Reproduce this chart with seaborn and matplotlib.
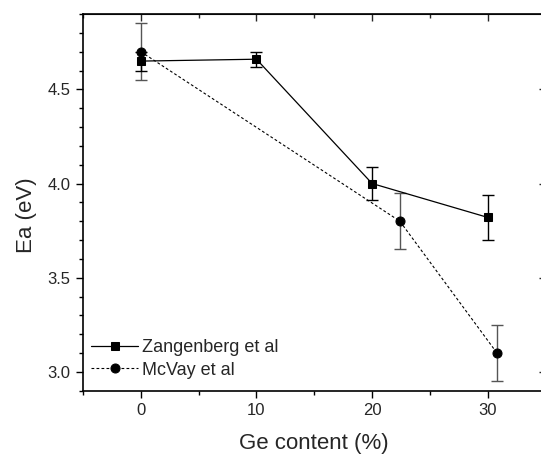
import numpy as np
import pandas as pd
import matplotlib
matplotlib.use("Agg")
import matplotlib.pyplot as plt
import seaborn as sns
from matplotlib.ticker import MultipleLocator


# Zangenberg et al data
zang_ge = [0, 10, 20, 30]
zang_ea = [4.65, 4.66, 4.00, 3.82]
zang_err = [0.05, 0.04, 0.09, 0.12]

# McVay et al data
mcvay_ge = [0, 22.4, 30.8]
mcvay_ea = [4.70, 3.80, 3.10]
mcvay_err = [0.15, 0.15, 0.15]

df_z = pd.DataFrame({'ge': zang_ge, 'ea': zang_ea})
df_m = pd.DataFrame({'ge': mcvay_ge, 'ea': mcvay_ea})

sns.set_style('ticks')
plt.rcParams['font.family'] = ['Liberation Sans', 'DejaVu Sans']

fig = plt.figure(figsize=(5.41, 4.58), dpi=100)
ax = fig.add_axes([0.1534, 0.147, 0.855, 0.8224])

# error bars first
ax.errorbar(mcvay_ge, mcvay_ea, yerr=mcvay_err, fmt='none', ecolor='#555555',
            elinewidth=1.0, capsize=4, capthick=1.0, zorder=2)
ax.errorbar(zang_ge, zang_ea, yerr=zang_err, fmt='none', ecolor='black',
            elinewidth=1.0, capsize=4, capthick=1.0, zorder=2)

sns.lineplot(x='ge', y='ea', data=df_z, ax=ax, color='black', linewidth=0.9,
             marker='s', markersize=6, markeredgecolor='black',
             label='Zangenberg et al', zorder=3)
sns.lineplot(x='ge', y='ea', data=df_m, ax=ax, color='black', linewidth=0.8,
             linestyle=(0, (2.5, 2)), marker='o', markersize=6.5,
             markeredgecolor='black', label='McVay et al', zorder=3)

ax.set_xlim(-5, 35)
ax.set_ylim(2.9, 4.9)
ax.xaxis.set_major_locator(MultipleLocator(10))
ax.xaxis.set_minor_locator(MultipleLocator(5))
ax.yaxis.set_major_locator(MultipleLocator(0.5))
ax.yaxis.set_minor_locator(MultipleLocator(0.1))
ax.yaxis.set_major_formatter(matplotlib.ticker.FormatStrFormatter('%.1f'))

for s in ax.spines.values():
    s.set_linewidth(1.2)
    s.set_color('black')

ax.tick_params(which='both', direction='out', top=False, right=False,
               labelsize=12, width=1.0, color='black', pad=4)
ax.tick_params(which='major', length=5)
ax.tick_params(which='minor', length=3)

# inward ticks on top and right
axt = ax.secondary_xaxis('top')
axt.xaxis.set_major_locator(MultipleLocator(10))
axt.xaxis.set_minor_locator(MultipleLocator(5))
axt.tick_params(which='both', direction='in', labeltop=False, width=1.0)
axt.tick_params(which='major', length=5)
axt.tick_params(which='minor', length=3)
axr = ax.secondary_yaxis('right')
axr.yaxis.set_major_locator(MultipleLocator(0.5))
axr.yaxis.set_minor_locator(MultipleLocator(0.1))
axr.tick_params(which='both', direction='in', labelright=False, width=1.0)
axr.tick_params(which='major', length=5)
axr.tick_params(which='minor', length=3)

ax.set_xlabel('Ge content (%)', fontsize=16, labelpad=11)
ax.set_ylabel('Ea (eV)', fontsize=16, labelpad=7.5)
ax.yaxis.label.set_y(0.466)

ax.legend(loc='lower left', frameon=False, fontsize=13, handlelength=2.6,
          handletextpad=0.2, labelspacing=0.3, borderpad=0.2,
          borderaxespad=0.25, bbox_to_anchor=(0.0, 0.01))

fig.savefig('out.png', dpi=100)
